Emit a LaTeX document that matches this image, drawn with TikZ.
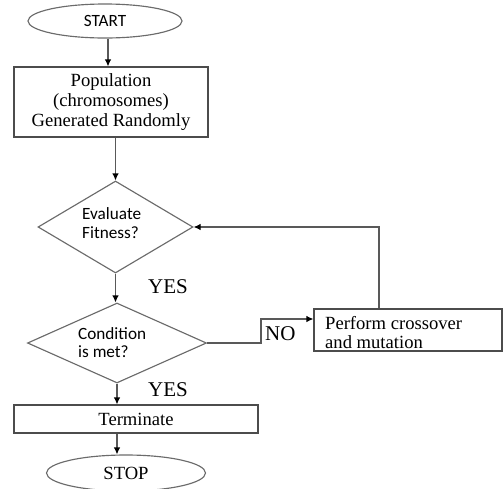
\documentclass[tikz,border=0pt]{standalone}
\usepackage{fontspec}
\setmainfont{Liberation Serif}
\newfontfamily\calfont{Carlito}
\usetikzlibrary{shapes.geometric,arrows.meta}
\begin{document}
\begin{tikzpicture}[x=1pt,y=-1pt,
  gline/.style={draw=black!58, line width=1.15pt},
  box/.style={draw=black!70, line width=1.15pt, rectangle, inner sep=0pt},
  oval/.style={gline, ellipse, inner sep=0pt},
  dia/.style={gline, diamond, inner sep=0pt},
  serif/.style={font=\fontsize{18.6}{20}\selectfont},
  sans/.style={font=\calfont\fontsize{17.2}{18.5}\selectfont},
  lbl/.style={font=\fontsize{21}{22}\selectfont, inner sep=0pt},
  sanslbl/.style={sans, align=left, inner sep=0pt, anchor=west},
  arr/.style={draw=black!65, line width=1.15pt, -{Latex[length=7pt,width=6.5pt,color=black]}}
]
\useasboundingbox (0,0) rectangle (504,488);

\node[oval, sans, minimum width=154pt, minimum height=34pt] (start) at (105,21) {START};
\node[box, serif, align=center, minimum width=194pt, minimum height=70pt] (pop) at (111,102)
  {Population\\(chromosomes)\\Generated Randomly};
\node[dia, minimum width=155pt, minimum height=92pt] (eval) at (115.5,227) {};
\node[sanslbl] (evaltxt) at (82,223) {Evaluate\\Fitness?};
\node[dia, minimum width=179pt, minimum height=80pt] (cond) at (117,343) {};
\node[sanslbl] (condtxt) at (78,342.5) {Condition\\is met?};
\node[box, minimum width=188pt, minimum height=42pt] (perf) at (408,330) {};
\node[font=\fontsize{18.6}{19}\selectfont, align=left, inner sep=0pt, anchor=west]
  (perftxt) at (325,333) {Perform crossover\\and mutation};
\node[box, serif, minimum width=244pt, minimum height=28pt] (term) at (136,419) {Terminate};
\node[oval, serif, minimum width=159pt, minimum height=36pt] (stop) at (126,473) {STOP};

\node[lbl] (yes1) at (168,287) {YES};
\node[lbl] (yes2) at (168,390) {YES};
\node[lbl, anchor=west] (no) at (265,334) {NO};

\coordinate (nobend) at (261,319);
\coordinate (fb) at (379,227);

\draw[arr] (start.south -| 108,0) -- (108,0 |- pop.north);
\draw[arr] (pop.south -| eval.north) -- (eval.north);
\draw[arr] (eval.south) -- (eval.south |- cond.north);
\draw[arr] (cond.south) -- (cond.south |- term.north);
\draw[arr] (cond.south |- term.south) -- (cond.south |- stop.north);
\draw[arr] (cond.east) -| (nobend) -- (nobend -| perf.west);
\draw[arr] (fb |- perf.north) -- (fb) -- (eval.east);
\end{tikzpicture}
\end{document}
